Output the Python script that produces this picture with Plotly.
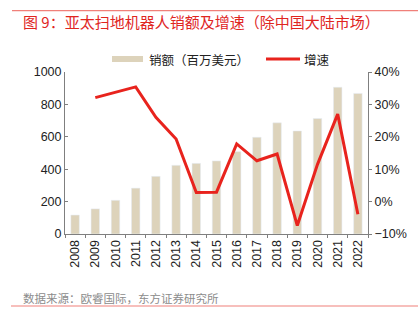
import plotly.graph_objects as go

# Asia-Pacific (ex. mainland China) robot vacuum sales and growth
years = ["2008", "2009", "2010", "2011", "2012", "2013", "2014", "2015",
         "2016", "2017", "2018", "2019", "2020", "2021", "2022"]
sales = [117, 155, 208, 283, 356, 424, 436, 451, 508, 597, 686, 636, 713, 906, 868]
growth_years = years[1:]
growth = [32.1, 33.7, 35.4, 26.0, 19.3, 2.8, 2.9, 17.8, 12.6, 14.7, -7.4, 11.5, 27.0, -3.9]

title_text = "图 9：亚太扫地机器人销额及增速（除中国大陆市场）"
bar_name = "销额（百万美元）"
line_name = "增速"
source_text = "数据来源：欧睿国际，东方证券研究所"

W, H = 418, 322
L, R, T, B = 65, 50, 72, 88
PW, PH = W - L - R, H - T - B

BAR_COLOR = "#ddd3bb"
LINE_COLOR = "#e8231d"
RED = "#e0261f"
AXIS_COLOR = "#7f7f7f"
FONT = "Arial, Liberation Sans, Noto Sans CJK SC, sans-serif"
CJK = "Noto Sans CJK SC, sans-serif"


def px(x):
    return (x - L) / PW


def py(y):
    return (H - B - y) / PH


fig = go.Figure()
fig.add_trace(go.Bar(x=years, y=sales, name=bar_name, marker_color=BAR_COLOR,
                     width=0.42, showlegend=False))
fig.add_trace(go.Scatter(x=growth_years, y=growth, name=line_name, yaxis="y2",
                         mode="lines", line=dict(color=LINE_COLOR, width=3),
                         showlegend=False))

shapes = [
    # top and bottom rules
    dict(type="line", xref="paper", yref="paper", x0=px(12), x1=px(418),
         y0=py(10.7), y1=py(10.7), line=dict(color="#f0807a", width=1.2)),
    dict(type="line", xref="paper", yref="paper", x0=px(11), x1=px(418),
         y0=py(306), y1=py(306), line=dict(color="#f0807a", width=1.2)),
    # legend swatches
    dict(type="rect", xref="paper", yref="paper", x0=px(112), x1=px(143),
         y0=py(62), y1=py(56), fillcolor=BAR_COLOR, line=dict(width=0)),
    dict(type="line", xref="paper", yref="paper", x0=px(266), x1=px(300),
         y0=py(59), y1=py(59), line=dict(color=LINE_COLOR, width=3)),
]

annotations = [
    dict(text=title_text, xref="paper", yref="paper", x=px(21), y=py(21.5),
         xanchor="left", yanchor="middle", showarrow=False,
         font=dict(family=CJK, size=15, color=RED)),
    dict(text=bar_name, xref="paper", yref="paper", x=px(147), y=py(59),
         xanchor="left", yanchor="middle", showarrow=False,
         font=dict(family=CJK, size=12.5, color="#222222")),
    dict(text=line_name, xref="paper", yref="paper", x=px(302), y=py(59),
         xanchor="left", yanchor="middle", showarrow=False,
         font=dict(family=CJK, size=12.5, color="#222222")),
    dict(text=source_text, xref="paper", yref="paper", x=px(21), y=py(298),
         xanchor="left", yanchor="middle", showarrow=False,
         font=dict(family=CJK, size=11.5, color="#8c8c8c")),
]

fig.update_layout(
    width=W, height=H,
    margin=dict(l=L, r=R, t=T, b=B, pad=0),
    paper_bgcolor="white", plot_bgcolor="white",
    font=dict(family=FONT, size=12, color="#222222"),
    bargap=0.5,
    shapes=shapes,
    annotations=annotations,
    xaxis=dict(
        type="category", range=[-0.5, 14.5], tickangle=-90,
        showline=True, linecolor=AXIS_COLOR, linewidth=1,
        ticks="outside", ticklen=3, tickcolor=AXIS_COLOR, tickson="boundaries",
        showgrid=False, tickfont=dict(size=12.5),
    ),
    yaxis=dict(
        range=[0, 1000], dtick=200, showgrid=False, zeroline=False,
        showline=True, linecolor=AXIS_COLOR, linewidth=1,
        ticks="inside", ticklen=3, tickcolor=AXIS_COLOR,
        tickfont=dict(size=12.5),
    ),
    yaxis2=dict(
        range=[-10, 40], dtick=10, overlaying="y", side="right",
        showgrid=False, zeroline=False, ticksuffix="%",
        showline=True, linecolor=AXIS_COLOR, linewidth=1,
        ticks="outside", ticklen=3, tickcolor=AXIS_COLOR,
        tickfont=dict(size=12.5),
    ),
)

fig.write_html("out.html")
